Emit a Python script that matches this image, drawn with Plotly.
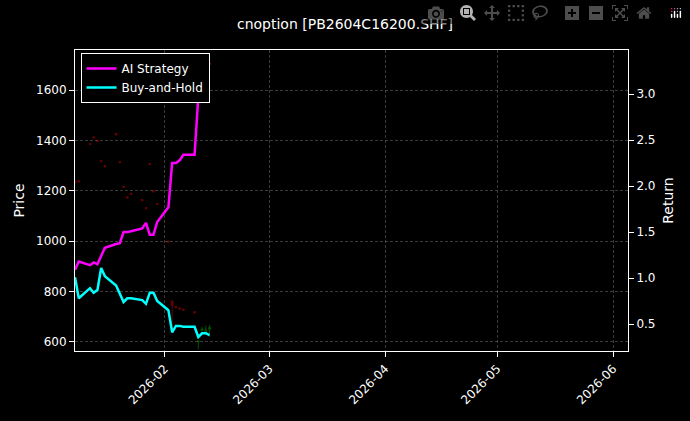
import plotly.graph_objects as go

dates = ["2026-01-08", "2026-01-09", "2026-01-12", "2026-01-13", "2026-01-14", "2026-01-15",
         "2026-01-16", "2026-01-19", "2026-01-20", "2026-01-21", "2026-01-22", "2026-01-23",
         "2026-01-26", "2026-01-27", "2026-01-28", "2026-01-29", "2026-01-30", "2026-02-02",
         "2026-02-03", "2026-02-04", "2026-02-05", "2026-02-06", "2026-02-09", "2026-02-10",
         "2026-02-11", "2026-02-12", "2026-02-13"]
ai_ret = [1.09, 1.18, 1.14, 1.17, 1.15, 1.25, 1.33, 1.37, 1.38, 1.50, 1.50, 1.51, 1.54, 1.60,
          1.47, 1.47, 1.61, 1.77, 2.25, 2.25, 2.28, 2.34, 2.34, 2.97, 3.10, 3.23, 3.34]
bh_ret = [1.01, 0.78, 0.89, 0.84, 0.87, 1.11, 1.02, 0.92, 0.83, 0.74, 0.78, 0.78, 0.76, 0.72,
          0.84, 0.84, 0.75, 0.65, 0.41, 0.48, 0.48, 0.47, 0.47, 0.36, 0.40, 0.40, 0.38]

# option prices (mostly tiny candles)
c_open = [1238, 1240, 1388, 1414, 1400, 1320, 1300, 1428, 1316, 1217, 1176, 1190, 1165, 1133,
          1308, 1200, 1150, 1000, 762, 740, 735, 730, 720, 600, 645, 640, 650]
c_close = [1232, 1236, 1384, 1410, 1396, 1316, 1296, 1422, 1312, 1213, 1172, 1186, 1161, 1129,
           1304, 1196, 1146, 996, 745, 736, 731, 726, 716, 604, 652, 648, 658]
c_high = [1240, 1242, 1390, 1416, 1402, 1322, 1302, 1430, 1318, 1219, 1178, 1192, 1167, 1135,
          1310, 1202, 1152, 1002, 765, 742, 737, 732, 722, 606, 660, 665, 668]
c_low = [1230, 1234, 1382, 1408, 1394, 1314, 1294, 1420, 1310, 1211, 1170, 1184, 1159, 1127,
         1302, 1194, 1144, 994, 650, 734, 729, 724, 714, 570, 640, 630, 620]

fig = go.Figure()
fig.add_trace(go.Candlestick(x=dates, open=c_open, high=c_high, low=c_low, close=c_close,
                             increasing=dict(line=dict(color="#00c000", width=1), fillcolor="#00c000"),
                             decreasing=dict(line=dict(color="#ff0000", width=1), fillcolor="#ff0000"),
                             opacity=0.4, showlegend=False, whiskerwidth=0))
fig.add_trace(go.Scatter(x=dates, y=ai_ret, name="AI Strategy", yaxis="y2",
                         line=dict(color="#ff00ff", width=2.5)))
fig.add_trace(go.Scatter(x=dates, y=bh_ret, name="Buy-and-Hold", yaxis="y2",
                         line=dict(color="#00ffff", width=2.5)))

grid = dict(showgrid=True, gridcolor="rgba(128,128,128,0.45)", griddash="3px,2px", gridwidth=0.5)
fig.update_layout(
    width=690, height=421, paper_bgcolor="black", plot_bgcolor="black",
    font=dict(family="DejaVu Sans", color="white", size=12),
    title=dict(text="cnoption [PB2604C16200.SHF]", x=0.5, y=0.955, xanchor="center", font=dict(size=14)),
    margin=dict(l=75, r=62, t=50, b=70, autoexpand=False),
    xaxis=dict(range=["2026-01-08", "2026-06-05"], rangeslider=dict(visible=False),
               tickformat="%Y-%m", dtick="M1", tick0="2026-02-01", tickangle=-45, automargin=False,
               showline=True, linecolor="white", mirror=True, ticks="outside", tickcolor="white", **grid),
    yaxis=dict(title=dict(text="Price", standoff=8), range=[564, 1759], automargin=False,
               tickvals=[600, 800, 1000, 1200, 1400, 1600],
               showline=True, linecolor="white", ticks="outside", tickcolor="white", zeroline=False, **grid),
    yaxis2=dict(title=dict(text="Return", standoff=8), overlaying="y", side="right", range=[0.207, 3.48],
                tickvals=[0.5, 1.0, 1.5, 2.0, 2.5, 3.0], tickformat=".1f", showgrid=False, automargin=False,
                showline=True, linecolor="white", ticks="outside", tickcolor="white", zeroline=False),
    legend=dict(x=0.01, y=0.99, xanchor="left", yanchor="top", bgcolor="black",
                bordercolor="white", borderwidth=1, font=dict(size=12)),
)
fig.write_html("out.html",
               post_script="document.body.style.margin='0';document.body.style.background='black';")
